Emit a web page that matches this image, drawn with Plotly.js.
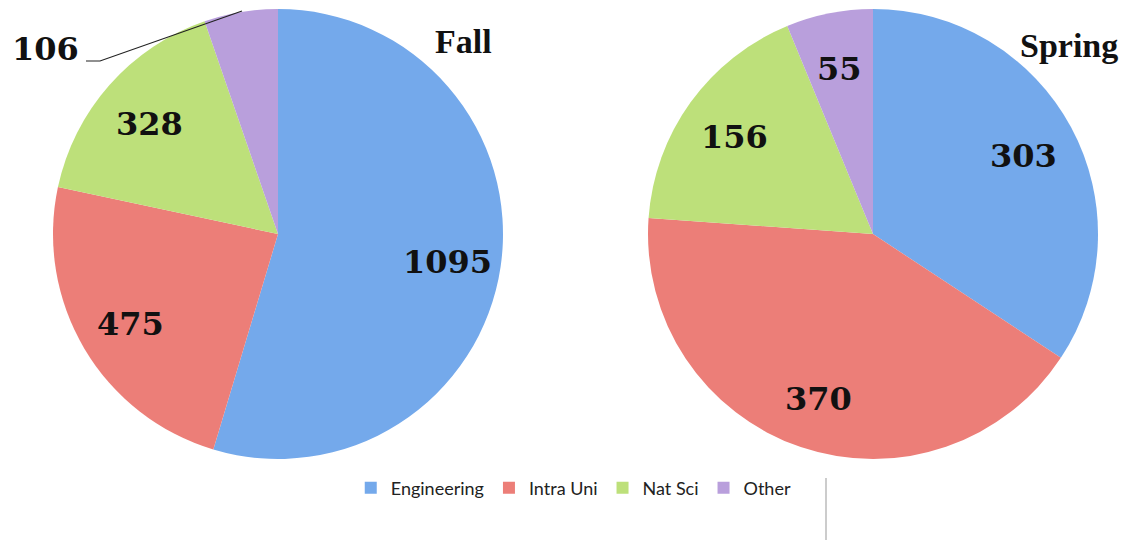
<!DOCTYPE html>
<html>
<head>
<meta charset="utf-8">
<script src="https://cdn.plot.ly/plotly-3.0.1.min.js"></script>
<style>
  html, body { margin: 0; padding: 0; background: #ffffff; }
  #chart { width: 1125px; height: 540px; }
</style>
</head>
<body>
<div id="chart"></div>
<script>
// categories and values
const categories = ['Engineering', 'Intra Uni', 'Nat Sci', 'Other'];
const fallValues = [1095, 475, 328, 106];
const springValues = [303, 370, 156, 55];
const sliceColors = ['#74a9eb', '#ec7e78', '#bde07a', '#b99fdc'];

const W = 1125, H = 540;
const labelFont = { family: 'DejaVu Serif', size: 32, color: '#111111' };
const titleFont = { family: 'Liberation Serif', size: 34, color: '#111111' };

// pie geometry (pixels) -> paper domains
const R = 225;
const fallCenter = { x: 278, y: 234 };
const springCenter = { x: 873, y: 234 };
function domainFor(c) {
  return {
    x: [(c.x - R) / W, (c.x + R) / W],
    y: [1 - (c.y + R) / H, 1 - (c.y - R) / H]
  };
}

function pieTrace(values, center, showlegend) {
  return {
    type: 'pie',
    labels: categories,
    values: values,
    sort: false,
    direction: 'clockwise',
    rotation: 0,
    marker: { colors: sliceColors, line: { width: 0 } },
    textinfo: 'none',
    hoverinfo: 'label+value',
    domain: domainFor(center),
    showlegend: showlegend
  };
}

// value labels sit on each slice's bisector, ~3/4 of the way out, like the source
function sliceLabels(values, center, skip) {
  const total = values.reduce((a, b) => a + b, 0);
  let start = 0;
  const out = [];
  values.forEach((v, i) => {
    const span = v / total * 2 * Math.PI;
    const mid = start + span / 2;
    start += span;
    if (skip.includes(i)) return;
    const r = 0.76 * R;
    const px = center.x + r * Math.sin(mid);
    const py = center.y - r * Math.cos(mid) + 3;
    out.push({
      text: '<b>' + v + '</b>', x: px / W, y: 1 - py / H,
      xref: 'paper', yref: 'paper', xanchor: 'center', yanchor: 'middle',
      showarrow: false, font: labelFont
    });
  });
  return out;
}

const annotations = [
  ...sliceLabels(fallValues, fallCenter, [3]),
  ...sliceLabels(springValues, springCenter, []),
  // "Other" in Fall is too thin, labelled outside with a leader line
  { text: '<b>' + fallValues[3] + '</b>', x: 45 / W, y: 1 - 49 / H, xref: 'paper', yref: 'paper',
    xanchor: 'center', yanchor: 'middle', showarrow: false, font: labelFont },
  { text: '<b>Fall</b>', x: 463 / W, y: 1 - 42 / H, xref: 'paper', yref: 'paper',
    xanchor: 'center', yanchor: 'middle', showarrow: false, font: titleFont },
  { text: '<b>Spring</b>', x: 1069 / W, y: 1 - 45 / H, xref: 'paper', yref: 'paper',
    xanchor: 'center', yanchor: 'middle', showarrow: false, font: titleFont }
];

const layout = {
  width: W,
  height: H,
  margin: { t: 0, b: 0, l: 0, r: 0 },
  paper_bgcolor: '#ffffff',
  plot_bgcolor: '#ffffff',
  showlegend: true,
  legend: {
    orientation: 'h',
    x: 0.51,
    xanchor: 'center',
    y: 1 - 488 / H,
    yanchor: 'middle',
    font: { family: 'Lato', size: 18, color: '#222222' },
    itemwidth: 30,
    traceorder: 'normal'
  },
  annotations: annotations,
  shapes: [
    // leader line for the 106 label
    { type: 'path', xref: 'paper', yref: 'paper',
      path: 'M ' + (86 / W) + ' ' + (1 - 61 / H) + ' L ' + (100 / W) + ' ' + (1 - 61 / H) +
            ' L ' + (242 / W) + ' ' + (1 - 11 / H),
      line: { color: '#222222', width: 1.2 } },
    // stray grey divider line under the spring pie
    { type: 'line', xref: 'paper', yref: 'paper',
      x0: 826 / W, x1: 826 / W, y0: 1 - 478 / H, y1: 0,
      line: { color: '#bbbbbb', width: 1.5 } }
  ]
};

Plotly.newPlot('chart', [pieTrace(fallValues, fallCenter, true), pieTrace(springValues, springCenter, false)],
  layout, { displayModeBar: false, staticPlot: true });
</script>
</body>
</html>
